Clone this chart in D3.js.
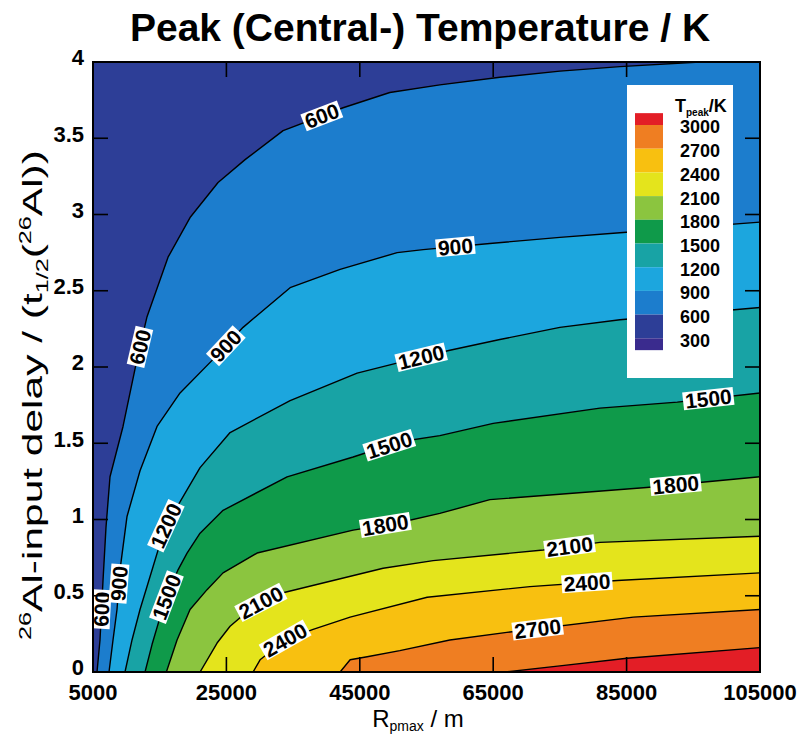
<!DOCTYPE html>
<html>
<head>
<meta charset="utf-8">
<script src="https://cdn.jsdelivr.net/npm/d3@7"></script>
<style>
  body { margin: 0; background: #fff; }
  svg { display: block; }
  text { font-family: "Liberation Sans", Arial, Helvetica, sans-serif; }
</style>
</head>
<body>
<svg id="chart" width="803" height="734"></svg>
<script>
// Contour levels of the peak temperature (K) and the colour of each band
const levels = [300, 600, 900, 1200, 1500, 1800, 2100, 2400, 2700, 3000];
const bandColors = ["#3a2b8e", "#2d3e97", "#1c7dcd", "#1ca6de", "#18a3a5", "#0f9a4a",
                    "#8bc53f", "#e4e41c", "#f8c010", "#ef7e22", "#e31e26"];

const xTicks = [5000, 25000, 45000, 65000, 85000, 105000];
const yTicks = [0, 0.5, 1, 1.5, 2, 2.5, 3, 3.5, 4];

// Isotherms as [R_pmax (m), delay (t1/2)] vertices, running from the lower edge outwards
const iso600 = [[5600,0],[6050,0.21],[6500,0.60],[6950,0.95],[7550,1.28],[9500,1.61],[11600,2.05],
  [13100,2.33],[16250,2.72],[19550,2.98],[23750,3.21],[27800,3.36],[33500,3.55],[42500,3.70],
  [49500,3.80],[57000,3.85],[66000,3.90],[75000,3.94],[84000,3.97],[96000,4.0]];
const iso900 = [[7400,0],[8000,0.21],[8600,0.41],[9050,0.67],[10100,1.02],[12050,1.32],[14600,1.61],
  [18050,1.83],[23000,2.05],[27500,2.26],[34550,2.52],[42050,2.64],[50600,2.75],[54500,2.77],
  [64500,2.81],[75000,2.85],[84000,2.88],[105000,2.95]];
const iso1200 = [[9800,0],[10850,0.21],[12050,0.41],[14000,0.69],[15800,0.95],[17300,1.06],[21050,1.34],
  [25550,1.57],[34550,1.78],[44600,1.96],[51000,2.03],[58500,2.11],[66000,2.18],[75000,2.26],
  [84000,2.31],[105000,2.39]];
const iso1500 = [[12800,0],[13850,0.18],[15800,0.47],[17750,0.67],[19100,0.78],[21050,0.91],[24500,1.06],
  [34100,1.28],[44000,1.41],[51000,1.51],[57000,1.55],[65000,1.63],[81000,1.73],[92600,1.77],
  [105000,1.83]];
const iso1800 = [[16000,0],[17600,0.21],[19550,0.41],[22100,0.54],[24500,0.65],[29600,0.78],[44000,0.93],
  [51000,0.98],[57000,1.04],[64500,1.13],[88000,1.21],[105000,1.28]];
const iso2100 = [[21050,0],[23600,0.19],[25550,0.30],[29300,0.44],[33500,0.52],[48500,0.68],[56000,0.73],
  [72500,0.80],[81000,0.85],[105000,0.89]];
const iso2400 = [[29000,0],[30050,0.08],[33800,0.21],[38000,0.28],[43550,0.36],[55100,0.49],[70500,0.56],
  [83600,0.60],[105000,0.65]];
const iso2700 = [[42050,0],[43550,0.08],[46100,0.10],[51000,0.14],[58500,0.21],[67050,0.26],[86000,0.36],
  [105000,0.41]];
const iso3000 = [[66800,0],[75000,0.04],[85050,0.09],[105000,0.16]];

const isolines = [
  { level: 600, pts: iso600 }, { level: 900, pts: iso900 }, { level: 1200, pts: iso1200 },
  { level: 1500, pts: iso1500 }, { level: 1800, pts: iso1800 }, { level: 2100, pts: iso2100 },
  { level: 2400, pts: iso2400 }, { level: 2700, pts: iso2700 }, { level: 3000, pts: iso3000 }
];

// In-line contour labels: [level, R_pmax, delay] near where each label sits
const contourLabels = [
  [600, 39300, 3.64], [600, 11000, 2.14], [600, 6200, 0.41],
  [900, 59300, 2.77], [900, 24350, 2.16], [900, 9200, 0.58],
  [1200, 54000, 2.09], [1200, 16250, 0.95],
  [1500, 49500, 1.48], [1500, 97200, 1.80], [1500, 16100, 0.49],
  [1800, 48800, 0.98], [1800, 92400, 1.23],
  [2100, 30350, 0.43], [2100, 76500, 0.81],
  [2400, 33800, 0.21], [2400, 79000, 0.58],
  [2700, 71600, 0.30]
];

const xDomain = [5000, 105000];
const yDomain = [0, 4];

const svg = d3.select("#chart");
const W = 803, H = 734;
const margin = { left: 93, right: 43, top: 62, bottom: 62 };
const x = d3.scaleLinear().domain(xDomain).range([margin.left, W - margin.right]);
const y = d3.scaleLinear().domain(yDomain).range([H - margin.bottom, margin.top]);

svg.append("defs").append("clipPath").attr("id", "plotClip")
  .append("rect")
  .attr("x", x(xDomain[0])).attr("y", y(yDomain[1]))
  .attr("width", x(xDomain[1]) - x(xDomain[0]))
  .attr("height", y(yDomain[0]) - y(yDomain[1]));

const plot = svg.append("g").attr("clip-path", "url(#plotClip)");

// background band (300-600 K)
plot.append("rect")
  .attr("x", x(xDomain[0])).attr("y", y(yDomain[1]))
  .attr("width", x(xDomain[1]) - x(xDomain[0]))
  .attr("height", y(yDomain[0]) - y(yDomain[1]))
  .attr("fill", bandColors[1]);

const line = d3.line().x(d => x(d[0])).y(d => y(d[1]));

// filled bands: each isotherm closes against the lower-right corner
isolines.forEach(d => {
  const pts = d.pts.slice();
  const last = pts[pts.length - 1];
  if (last[1] >= yDomain[1]) pts.push([xDomain[1], yDomain[1]]);
  pts.push([xDomain[1], yDomain[0]]);
  plot.append("path")
    .attr("d", line(pts) + "Z")
    .attr("fill", bandColors[levels.indexOf(d.level) + 1]);
});

// isotherm lines
const linePaths = {};
isolines.forEach(d => {
  linePaths[d.level] = plot.append("path")
    .attr("d", line(d.pts))
    .attr("fill", "none")
    .attr("stroke", "#000")
    .attr("stroke-width", 1.4)
    .attr("stroke-linejoin", "round");
});

// labels on the isotherms, rotated along the line
const labelLayer = plot.append("g");
contourLabels.forEach(([lev, lx, ly]) => {
  const node = linePaths[lev].node();
  const L = node.getTotalLength();
  const px = x(lx), py = y(ly);
  let best = 0, bestD = Infinity;
  for (let l = 0; l <= L; l += 1) {
    const p = node.getPointAtLength(l);
    const dd = (p.x - px) ** 2 + (p.y - py) ** 2;
    if (dd < bestD) { bestD = dd; best = l; }
  }
  const p = node.getPointAtLength(best);
  const a = node.getPointAtLength(Math.max(0, best - 12));
  const b = node.getPointAtLength(Math.min(L, best + 12));
  let ang = Math.atan2(b.y - a.y, b.x - a.x) * 180 / Math.PI;
  if (ang > 90) ang -= 180;
  if (ang < -90) ang += 180;
  const g = labelLayer.append("g").attr("transform", `translate(${p.x},${p.y}) rotate(${ang})`);
  const t = g.append("text")
    .attr("text-anchor", "middle")
    .attr("dy", "0.36em")
    .attr("font-size", 21)
    .attr("font-weight", "bold")
    .attr("fill", "#000")
    .text(lev);
  const w = t.node().getComputedTextLength();
  g.insert("rect", "text")
    .attr("x", -w / 2 - 2).attr("y", -9)
    .attr("width", w + 4).attr("height", 18)
    .attr("fill", "#fff");
});

// frame and inward ticks
const frame = svg.append("g");
frame.append("rect")
  .attr("x", x(xDomain[0])).attr("y", y(yDomain[1]))
  .attr("width", x(xDomain[1]) - x(xDomain[0]))
  .attr("height", y(yDomain[0]) - y(yDomain[1]))
  .attr("fill", "none").attr("stroke", "#000").attr("stroke-width", 2);

const tickLen = 15;
xTicks.forEach(v => {
  frame.append("line").attr("x1", x(v)).attr("x2", x(v))
    .attr("y1", y(0)).attr("y2", y(0) - tickLen).attr("stroke", "#000").attr("stroke-width", 1.6);
  frame.append("line").attr("x1", x(v)).attr("x2", x(v))
    .attr("y1", y(4)).attr("y2", y(4) + tickLen).attr("stroke", "#000").attr("stroke-width", 1.6);
});
yTicks.forEach(v => {
  frame.append("line").attr("x1", x(xDomain[0])).attr("x2", x(xDomain[0]) + tickLen)
    .attr("y1", y(v)).attr("y2", y(v)).attr("stroke", "#000").attr("stroke-width", 1.6);
  frame.append("line").attr("x1", x(xDomain[1])).attr("x2", x(xDomain[1]) - tickLen)
    .attr("y1", y(v)).attr("y2", y(v)).attr("stroke", "#000").attr("stroke-width", 1.6);
});

// tick labels
svg.append("g").selectAll("text").data(xTicks).join("text")
  .attr("x", d => x(d)).attr("y", y(0) + 28)
  .attr("text-anchor", "middle")
  .attr("font-size", 22).attr("font-weight", "bold")
  .text(d => d);
svg.append("g").selectAll("text").data(yTicks).join("text")
  .attr("x", x(xDomain[0]) - 9).attr("y", d => y(d))
  .attr("dy", "0.15em")
  .attr("text-anchor", "end")
  .attr("font-size", 22).attr("font-weight", "bold")
  .text(d => d);

// title
svg.append("text")
  .attr("x", 420).attr("y", 41)
  .attr("text-anchor", "middle")
  .attr("font-size", 39).attr("font-weight", "bold")
  .text("Peak (Central-) Temperature / K");

// x axis title: R_pmax / m
const xt = svg.append("text")
  .attr("x", 418).attr("y", 727)
  .attr("text-anchor", "middle")
  .attr("font-size", 24);
xt.append("tspan").text("R");
xt.append("tspan").attr("font-size", 14).attr("dy", 4).text("pmax");
xt.append("tspan").attr("dy", -4).text(" / m");

// y axis title: 26Al-input delay / (t1/2(26Al)), drawn along the axis
const ytG = svg.append("g");
const yt = ytG.append("text")
  .attr("text-anchor", "middle")
  .attr("font-size", 27);
yt.append("tspan").attr("font-size", 16).attr("dy", -11).text("26");
yt.append("tspan").attr("dy", 11).text("Al-input delay / (t");
yt.append("tspan").attr("font-size", 16).attr("dy", 6).text("1/2");
yt.append("tspan").attr("dy", -6).text("(");
yt.append("tspan").attr("font-size", 16).attr("dy", -11).text("26");
yt.append("tspan").attr("dy", 11).text("Al))");
const ytLen = yt.node().getComputedTextLength();
const ytStretch = 490 / ytLen;
ytG.attr("transform", `translate(42,395) rotate(-90) scale(${ytStretch},1)`);

// legend
const lg = svg.append("g");
lg.append("rect").attr("x", 627).attr("y", 85).attr("width", 106).attr("height", 293)
  .attr("fill", "#fff");
const lt = lg.append("text").attr("x", 675).attr("y", 112)
  .attr("font-size", 18).attr("font-weight", "bold");
lt.append("tspan").text("T");
lt.append("tspan").attr("font-size", 10).attr("dy", 4).text("peak");
lt.append("tspan").attr("dy", -4).text("/K");

const step = 23.7;
const topBoundary = 125;                 // y of the 3000 K boundary
const sy = d3.scaleLinear().domain([3000, 300]).range([topBoundary, topBoundary + step * 9]);
// bands from top (>3000) to bottom (<300)
for (let i = bandColors.length - 1; i >= 0; i--) {
  const hi = i < levels.length ? levels[i] : null;
  const lo = i > 0 ? levels[i - 1] : null;
  const y0 = hi === null ? sy(3000) - step / 2 : sy(hi);
  const y1 = lo === null ? sy(300) + step / 2 : sy(lo);
  lg.append("rect").attr("x", 635).attr("y", y0).attr("width", 28).attr("height", y1 - y0)
    .attr("fill", bandColors[i]);
}
lg.selectAll("text.lev").data(levels).join("text")
  .attr("class", "lev")
  .attr("x", 680).attr("y", d => sy(d) + 2)
  .attr("dy", "0.36em")
  .attr("font-size", 18).attr("font-weight", "bold")
  .text(d => d);
</script>
</body>
</html>
